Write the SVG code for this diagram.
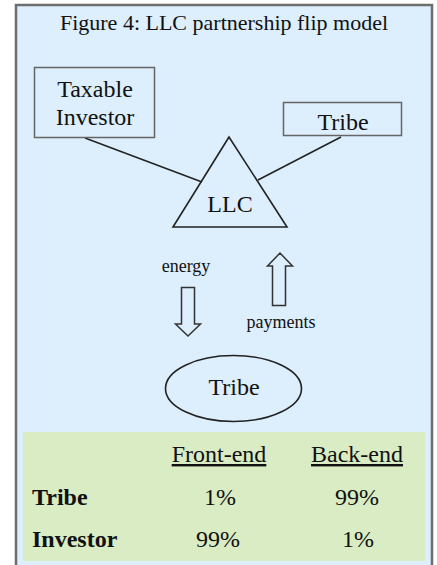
<svg xmlns="http://www.w3.org/2000/svg" width="437" height="565" viewBox="0 0 437 565">
<defs>
<style>
.t{font-size:24px;text-anchor:middle}
.s{font-size:18px;text-anchor:middle}
.shape{fill:none;stroke:#222;stroke-width:1.6}
.box{fill:#ddeefd;stroke:#666;stroke-width:1.5}
.conn{stroke:#222;stroke-width:1.5;fill:none}
.arrow{fill:#ddeefd;stroke:#333;stroke-width:1.5;stroke-linejoin:miter}
.b{font-weight:bold;font-size:24px}
</style>
</defs>
<g font-family="'Liberation Serif', Tinos, 'Times New Roman', 'Nimbus Roman', 'DejaVu Serif', serif" fill="#111">
<rect x="0" y="0" width="437" height="565" fill="#ffffff"/>
<path d="M16,566 V5 H432 V566" fill="#ddeefd" stroke="#6e6e6e" stroke-width="2.5"/>
<text x="224" y="30" font-size="22" text-anchor="middle">Figure 4: LLC partnership flip model</text>

<g id="connectors">
<line class="conn" x1="85" y1="138" x2="202" y2="182"/>
<line class="conn" x1="341" y1="137" x2="258" y2="180"/>
</g>

<g id="taxable-investor">
<rect class="box" x="34.5" y="67.5" width="120" height="70"/>
<text class="t" x="95" y="97">Taxable</text>
<text class="t" x="95" y="125">Investor</text>
</g>

<g id="tribe-box">
<rect class="box" x="283.5" y="102.5" width="118" height="33"/>
<text class="t" x="343" y="130">Tribe</text>
</g>

<g id="llc">
<polygon class="shape" points="229,137 173,227 287,227"/>
<text class="t" x="230" y="212">LLC</text>
</g>

<g id="energy">
<text class="s" x="186" y="272">energy</text>
<polygon class="arrow" points="181.5,287.5 194.5,287.5 194.5,324 200.5,324 188,336 175.5,324 181.5,324"/>
</g>

<g id="payments">
<polygon class="arrow" points="272.5,305.5 285.5,305.5 285.5,266 292.5,266 280,253 267.5,266 272.5,266"/>
<text class="s" x="281" y="328">payments</text>
</g>

<g id="tribe-ellipse">
<ellipse class="shape" cx="233.5" cy="388.5" rx="68" ry="33"/>
<text class="t" x="234" y="395">Tribe</text>
</g>

<g id="table">
<rect x="23" y="432" width="402" height="129" fill="#d9ecc4"/>
<text class="t" x="219" y="462" text-decoration="underline">Front-end</text>
<text class="t" x="357" y="462" text-decoration="underline">Back-end</text>
<text class="b" x="32" y="505">Tribe</text>
<text class="t" x="220" y="505">1%</text>
<text class="t" x="357" y="505">99%</text>
<text class="b" x="32" y="547">Investor</text>
<text class="t" x="218" y="547">99%</text>
<text class="t" x="358" y="547">1%</text>
</g>
</g>
</svg>
